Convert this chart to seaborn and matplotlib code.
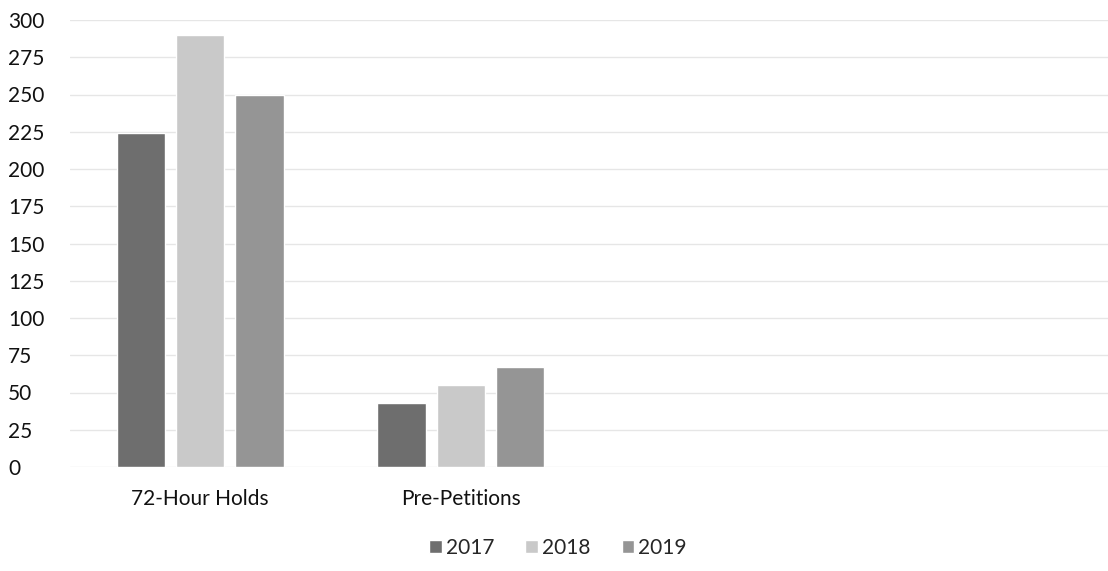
import matplotlib
matplotlib.use("Agg")
import matplotlib.pyplot as plt
import seaborn as sns
import pandas as pd

categories = ["72-Hour Holds", "Pre-Petitions"]
years = ["2017", "2018", "2019"]
values_2017 = [224, 43]
values_2018 = [290, 55]
values_2019 = [250, 67]
yticks = [0, 25, 50, 75, 100, 125, 150, 175, 200, 225, 250, 275, 300]

rows = []
for yr, vals in zip(years, [values_2017, values_2018, values_2019]):
    for c, v in zip(categories, vals):
        rows.append({"Category": c, "Year": yr, "Value": v})
df = pd.DataFrame(rows)

sns.set_theme(style="white")
plt.rcParams['font.family'] = ['Lato', 'DejaVu Sans']

fig = plt.figure(figsize=(11.08, 5.71), dpi=100)
ax = fig.add_axes([70/1108, 1-467/571, 1042/1108, 447/571])

palette = {"2017": "#6e6e6e", "2018": "#c9c9c9", "2019": "#959595"}
sns.barplot(data=df, x="Category", y="Value", hue="Year", order=categories,
            hue_order=years, palette=palette, width=0.68, gap=0.18,
            saturation=1, ax=ax, legend=True)

ax.set_xlim(-0.5, 3.5)
ax.set_ylim(0, 300)
ax.set_yticks(yticks)
ax.set_yticklabels([str(t) for t in yticks], fontsize=15, color="#111111")
ax.tick_params(axis="x", labelsize=15, colors="#111111", length=0, pad=16)
ax.tick_params(axis="y", length=0, pad=44.6)
for lbl in ax.get_yticklabels():
    lbl.set_horizontalalignment("left")
ax.grid(axis="y", color="#e6e6e6", linewidth=1)
ax.set_axisbelow(True)
for s in ax.spines.values():
    s.set_visible(False)
ax.set_xlabel("")
ax.set_ylabel("")

h, l = ax.get_legend_handles_labels()
ax.legend_.remove()
fig.legend(h, l, loc="center", bbox_to_anchor=(558/1108, 1-548/571), ncol=3,
           frameon=False, fontsize=15, handlelength=0.6, handleheight=0.6,
           handletextpad=0.2, columnspacing=1.5)

fig.savefig("out.png", dpi=100)
